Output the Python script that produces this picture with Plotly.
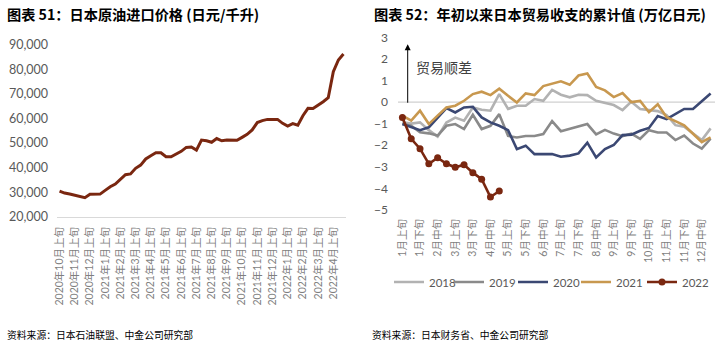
import plotly.graph_objects as go

W, H = 718, 343

# ---------------- data ----------------
# Left chart: Japan crude oil import price (yen / kilolitre), ten-day data
oil_months = ["2020年10月", "2020年11月", "2020年12月",
              "2021年1月", "2021年2月", "2021年3月", "2021年4月", "2021年5月", "2021年6月",
              "2021年7月", "2021年8月", "2021年9月", "2021年10月", "2021年11月", "2021年12月",
              "2022年1月", "2022年2月", "2022年3月", "2022年4月"]
dekads = ["上旬", "中旬", "下旬"]
oil_categories = [m + d for m in oil_months for d in dekads]
oil_price = [30450, 29630, 29230, 28680, 28000, 27730, 29100, 29100, 29200, 30700,
             32200, 33300, 35300, 37100, 37400, 39700, 41000, 43500, 44800, 46000,
             46000, 44400, 44400, 45400, 46600, 48200, 48400, 47100, 51200, 50900,
             50300, 51800, 50900, 51200, 51100, 51100, 52300, 53500, 55300, 58300,
             59100, 59600, 59600, 59600, 58000, 56900, 57900, 57200, 61100, 64100,
             64000, 65300, 66800, 68400, 79000, 83800, 86200]
oil_tick_labels = [m + "上旬" for m in oil_months]

# Right chart: cumulative trade balance since start of year (trillion yen)
trade_categories = [f"{m}月{d}" for m in range(1, 13) for d in dekads]
trade_tick_labels = trade_categories[::2]
years = ["2018", "2019", "2020", "2021", "2022"]
bal_2018 = [-0.94, -1.00, -0.94, -1.30, -1.60, -0.95, -0.72, -0.86, -0.25, -0.36,
            -0.40, 0.37, -0.32, -0.17, -0.17, 0.14, 0.06, 0.56, 0.34, 0.22,
            0.34, 0.32, 0.06, -0.03, -0.14, -0.37, 0.02, -0.32, -0.37, -0.42,
            -0.60, -1.07, -1.14, -1.45, -1.76, -1.22]
bal_2019 = [-1.02, -1.10, -1.40, -1.45, -1.55, -1.10, -1.02, -1.25, -0.59, -1.25,
            -1.10, -0.56, -1.57, -1.64, -1.57, -1.57, -1.48, -0.88, -1.35, -1.24,
            -1.12, -1.02, -1.50, -1.29, -1.46, -1.58, -1.46, -1.70, -1.30, -1.41,
            -1.41, -1.76, -1.55, -1.92, -2.16, -1.70]
bal_2020 = [-1.02, -1.17, -1.30, -1.17, -0.74, -0.28, -0.48, -0.25, -0.22, -0.71,
            -0.94, -1.10, -1.30, -2.18, -2.02, -2.41, -2.41, -2.41, -2.53, -2.48,
            -2.38, -1.88, -2.56, -2.18, -1.99, -1.53, -1.51, -1.33, -1.20, -0.65,
            -0.79, -0.56, -0.32, -0.32, 0.03, 0.40]
bal_2021 = [-0.63, -0.86, -0.40, -1.02, -0.63, -0.25, -0.17, 0.06, 0.37, 0.48,
            0.32, 0.62, 0.29, -0.02, 0.40, 0.32, 0.74, 0.85, 0.96, 0.80,
            1.23, 1.32, 0.70, 0.54, 0.23, 0.42, 0.00, 0.05, -0.47, -0.10,
            -0.70, -0.88, -1.08, -1.47, -1.86, -1.64]
bal_2022 = [-0.72, -1.70, -2.16, -2.86, -2.58, -2.86, -3.02, -2.90, -3.27, -3.57,
            -4.40, -4.12]
balances = [bal_2018, bal_2019, bal_2020, bal_2021, bal_2022]
colors = ["#B2B2B2", "#8A8A8A", "#3B4873", "#C8984F", "#7A2710"]

FONT = "Lato, 'Noto Sans CJK SC', sans-serif"
CJK = "'Noto Sans CJK SC', sans-serif"

def px_x(p):
    return p / W

def px_y(p):
    return (H - p) / H

# legend entry anchor positions (px) – one small legend per series
legend_left_px = [389, 449, 513, 576, 642]
legend_ids = ["legend", "legend2", "legend3", "legend4", "legend5"]

fig = go.Figure()

fig.add_trace(go.Scatter(
    x=oil_categories, y=oil_price, mode="lines",
    line=dict(color="#7A2710", width=3), xaxis="x", yaxis="y",
    showlegend=False, hoverinfo="skip"))

for yr, vals, c, lg in zip(years, balances, colors, legend_ids):
    if yr == "2022":
        fig.add_trace(go.Scatter(
            x=trade_categories[:len(vals)], y=vals, mode="lines+markers", name=yr,
            line=dict(color=c, width=2.6), marker=dict(color=c, size=7),
            xaxis="x2", yaxis="y2", legend=lg))
    else:
        fig.add_trace(go.Scatter(
            x=trade_categories[:len(vals)], y=vals, mode="lines", name=yr,
            line=dict(color=c, width=2.6), xaxis="x2", yaxis="y2", legend=lg))

# zero line for right chart
fig.add_shape(type="line", xref="x2 domain", yref="y2", x0=0, x1=1, y0=0, y1=0,
              line=dict(color="#D0D0D0", width=1.2), layer="below")

legend_font = dict(size=11.5, color="#595959", family=FONT)

fig.update_layout(
    width=W, height=H, autosize=False,
    margin=dict(l=0, r=0, t=0, b=0, autoexpand=False),
    paper_bgcolor="white", plot_bgcolor="white",
    font=dict(family=FONT, color="#595959"),
    xaxis=dict(domain=[px_x(57), px_x(346)], type="category",
               categoryorder="array", categoryarray=oil_categories,
               range=[-0.5, len(oil_categories) - 0.5],
               tickmode="array", tickvals=oil_tick_labels, ticktext=oil_tick_labels,
               tickangle=-90, tickfont=dict(size=10.5, color="#7F7F7F", family=FONT),
               showgrid=False, showline=True, linecolor="#D9D9D9", linewidth=1.2,
               ticks="", zeroline=False, anchor="y", ticklabelstandoff=5,
               automargin=False),
    yaxis=dict(domain=[px_y(216.7), px_y(44.7)], range=[20000, 90000],
               tickvals=[20000, 30000, 40000, 50000, 60000, 70000, 80000, 90000],
               tickformat=",d", tickfont=dict(size=12.5, color="#595959", family=FONT),
               showgrid=False, showline=False, zeroline=False, ticks="",
               anchor="x", ticklabelstandoff=8, automargin=False),
    xaxis2=dict(domain=[px_x(398), px_x(715)], type="category",
                categoryorder="array", categoryarray=trade_categories,
                range=[-0.5, len(trade_categories) - 0.5],
                tickmode="array", tickvals=trade_tick_labels, ticktext=trade_tick_labels,
                tickangle=-90, tickfont=dict(size=10.5, color="#7F7F7F", family=FONT),
                showgrid=False, showline=False, ticks="", zeroline=False,
                anchor="y2", ticklabelstandoff=6, automargin=False),
    yaxis2=dict(domain=[px_y(210), px_y(37.3)], range=[-5, 3], dtick=1,
                tickfont=dict(size=12, color="#595959", family=FONT),
                showgrid=False, showline=False, zeroline=False, ticks="",
                anchor="x2", ticklabelstandoff=9, automargin=False),
)

for lg, lx in zip(legend_ids, legend_left_px):
    fig.update_layout({lg: dict(orientation="h", x=px_x(lx), xanchor="left",
                                y=px_y(282), yanchor="middle", font=legend_font,
                                bgcolor="rgba(0,0,0,0)", borderwidth=0,
                                itemwidth=30, tracegroupgap=0)})

annotations = [
    dict(text="<b>图表 51：日本原油进口价格 (日元/千升)</b>", x=px_x(5), y=px_y(14),
         xref="paper", yref="paper", xanchor="left", yanchor="middle", showarrow=False,
         font=dict(size=14.2, color="#000000", family=CJK)),
    dict(text="<b>图表 52：年初以来日本贸易收支的累计值 (万亿日元)</b>", x=px_x(372), y=px_y(14),
         xref="paper", yref="paper", xanchor="left", yanchor="middle", showarrow=False,
         font=dict(size=14.2, color="#000000", family=CJK)),
    dict(text="资料来源：日本石油联盟、中金公司研究部", x=px_x(5), y=px_y(335),
         xref="paper", yref="paper", xanchor="left", yanchor="middle", showarrow=False,
         font=dict(size=9.8, color="#000000", family=CJK)),
    dict(text="资料来源：日本财务省、中金公司研究部", x=px_x(370), y=px_y(335),
         xref="paper", yref="paper", xanchor="left", yanchor="middle", showarrow=False,
         font=dict(size=9.8, color="#000000", family=CJK)),
    dict(text="", x=0.6, y=2.68, ax=0.6, ay=-0.1, xref="x2", yref="y2",
         axref="x2", ayref="y2", showarrow=True, arrowhead=2, arrowsize=1.2,
         arrowwidth=1, arrowcolor="#000000"),
    dict(text="贸易顺差", x=1.3, y=1.62, xref="x2", yref="y2", xanchor="left",
         yanchor="middle", showarrow=False, font=dict(size=14, color="#404040", family=CJK)),
]
fig.update_layout(annotations=annotations)

fig.write_html("out.html")
